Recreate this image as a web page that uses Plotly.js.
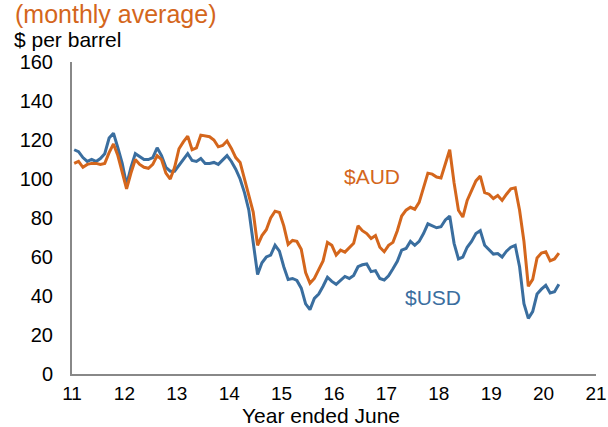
<!DOCTYPE html>
<html>
<head>
<meta charset="utf-8">
<script src="https://cdn.plot.ly/plotly-3.0.1.min.js"></script>
<style>
  html, body { margin: 0; padding: 0; background: #fff; }
  #chart { width: 608px; height: 427px; }
</style>
</head>
<body>
<div id="chart"></div>
<script>
// Monthly observations, July 2011 to October 2020 (x in "year ended June" units)
const startYear = 11;        // first month is July 2011, just after tick 11
const usd = [
  115, 114, 111, 109, 110, 109, 110.5, 113, 121, 123.5, 116, 108,
  97, 106, 113, 111.5, 110, 110, 111, 116, 112, 106, 104, 104,
  107, 110, 113, 109.5, 109, 110.5, 108, 108, 108.5, 107.5, 109.5, 112,
  109, 105, 100, 93, 84, 68, 51, 57, 60, 61, 66, 63,
  55, 48.5, 49, 48, 44, 36, 33, 38.8, 41, 45, 49.6, 47.5,
  46, 48, 50, 49, 50.5, 55, 56, 56.4, 52.5, 53, 49, 48.2,
  50.4, 54, 57.8, 63.5, 64.4, 68, 66, 68, 72, 77, 76, 75,
  75.5, 79, 81, 67, 59, 60, 65, 68, 72, 73.5, 66, 64,
  61.5, 61.8, 60, 63, 65, 66, 55, 36, 28.5, 32, 41, 43.5,
  45.5, 41.6, 42.2, 46
];
const aud = [
  108, 109, 106, 107.5, 108, 108, 107.5, 108, 113.5, 118, 112, 104,
  95, 103, 110, 107.5, 106, 105.5, 107.5, 112, 110, 103, 100, 106,
  115.5, 119, 122, 115, 116, 122.5, 122, 121.7, 120, 116.5, 117.2, 119.5,
  115.7, 111, 108.5, 100, 92.5, 83, 66, 71, 74, 80, 83.5, 82.8,
  76, 66.5, 68.5, 68, 64, 52, 46.5, 49, 53.5, 58, 67.5, 66,
  61, 63.5, 62.5, 65, 67, 76, 73.5, 72, 69.5, 71, 65, 62.7,
  66, 67.5, 73.5, 81, 84, 85.5, 84.5, 88, 95, 103, 102.5, 101,
  100.5, 108, 115, 98, 84, 80.5, 89, 94, 99, 101.5, 93, 92.2,
  90, 91.5, 89, 92.2, 95, 95.5, 84, 68, 45, 48.5, 59.5, 62,
  62.7, 58, 59, 62
];
const xTicks = [11, 12, 13, 14, 15, 16, 17, 18, 19, 20, 21];
const xTickText = ["11", "12", "13", "14", "15", "16", "17", "18", "19", "20", "21"];
const yTicks = [0, 20, 40, 60, 80, 100, 120, 140, 160];

const xs = usd.map((_, i) => startYear + (i + 0.5) / 12);

const AUD_COL = '#D4661C';
const USD_COL = '#3A6E9F';
const FONT = 'Liberation Sans, Arial, sans-serif';

const traces = [
  { x: xs, y: usd, type: 'scatter', mode: 'lines', name: '$USD',
    line: { color: USD_COL, width: 3 }, hoverinfo: 'skip' },
  { x: xs, y: aud, type: 'scatter', mode: 'lines', name: '$AUD',
    line: { color: AUD_COL, width: 3 }, hoverinfo: 'skip' }
];

const layout = {
  width: 608, height: 427,
  margin: { l: 72, r: 12, t: 62, b: 53 },
  paper_bgcolor: '#ffffff', plot_bgcolor: '#ffffff',
  showlegend: false,
  font: { family: FONT, size: 20, color: '#000' },
  xaxis: {
    range: [11, 21], tickvals: xTicks, ticktext: xTickText,
    showgrid: false, zeroline: false, showline: true,
    linecolor: '#888888', linewidth: 2, ticks: '',
    ticklabelstandoff: 1, ticklabeloverflow: 'allow',
    tickfont: { family: FONT, size: 19, color: '#000' }
  },
  yaxis: {
    range: [0, 160], tickvals: yTicks,
    showgrid: false, zeroline: false, showline: true,
    linecolor: '#888888', linewidth: 2, ticks: '',
    ticklabelstandoff: 13,
    tickfont: { family: FONT, size: 20, color: '#000' }
  },
  annotations: [
    { text: '(monthly average)', xref: 'paper', yref: 'paper',
      x: (13 - 72) / 524, y: (374 - 14) / 312, xanchor: 'left', yanchor: 'middle',
      showarrow: false, font: { family: FONT, size: 25, color: AUD_COL } },
    { text: '$ per barrel', xref: 'paper', yref: 'paper',
      x: (12 - 72) / 524, y: (374 - 39) / 312, xanchor: 'left', yanchor: 'middle',
      showarrow: false, font: { family: FONT, size: 21, color: '#000' } },
    { text: 'Year ended June', xref: 'paper', yref: 'paper',
      x: (321 - 72) / 524, y: (374 - 415) / 312, xanchor: 'center', yanchor: 'middle',
      showarrow: false, font: { family: FONT, size: 21, color: '#000' } },
    { text: '$AUD', xref: 'x', yref: 'y', x: 16.73, y: 101.5,
      xanchor: 'center', yanchor: 'middle', showarrow: false,
      font: { family: FONT, size: 21, color: AUD_COL } },
    { text: '$USD', xref: 'x', yref: 'y', x: 17.89, y: 39,
      xanchor: 'center', yanchor: 'middle', showarrow: false,
      font: { family: FONT, size: 21, color: USD_COL } }
  ]
};

Plotly.newPlot('chart', traces, layout, { staticPlot: true, displayModeBar: false });
</script>
</body>
</html>
